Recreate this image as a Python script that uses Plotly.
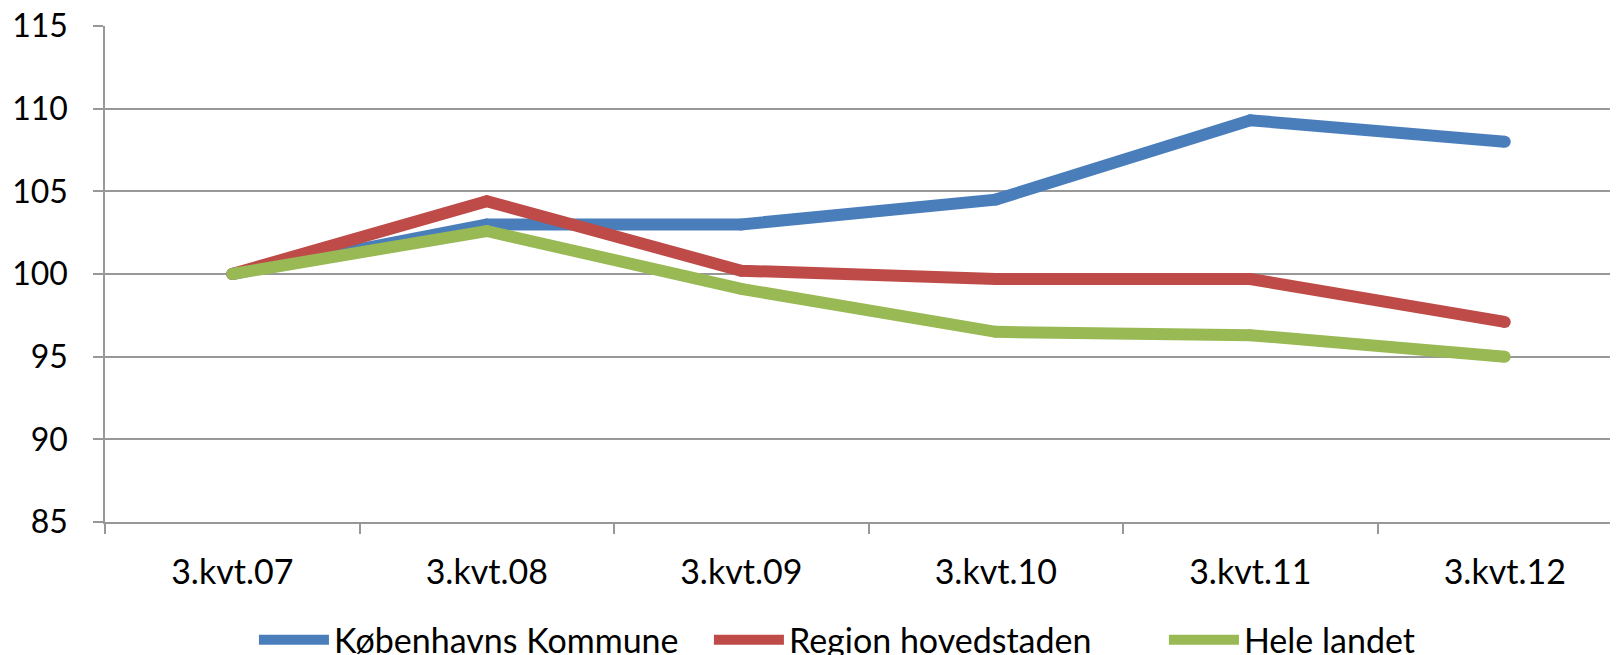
import plotly.graph_objects as go

quarters = ["3.kvt.07", "3.kvt.08", "3.kvt.09", "3.kvt.10", "3.kvt.11", "3.kvt.12"]
kbh_kommune = [100.0, 103.0, 103.0, 104.5, 109.3, 108.0]
region_hovedstaden = [100.0, 104.4, 100.2, 99.7, 99.7, 97.1]
hele_landet = [100.0, 102.6, 99.1, 96.5, 96.3, 95.0]

series = [
    ("Københavns Kommune", kbh_kommune, "#4A7EBB"),
    ("Region hovedstaden", region_hovedstaden, "#BE4B48"),
    ("Hele landet", hele_landet, "#98B954"),
]

fig = go.Figure()
for name, vals, col in series:
    fig.add_trace(go.Scatter(x=quarters, y=vals, name=name, mode="lines",
                             line=dict(color=col, width=12), legendgroup=name))
    # round caps / joins
    fig.add_trace(go.Scatter(x=quarters, y=vals, mode="markers", showlegend=False,
                             marker=dict(color=col, size=12), legendgroup=name,
                             hoverinfo="skip"))

# page body has an 8px margin, so the figure is offset by 8px
grid_col = "#989898"
fig.update_layout(
    width=1618, height=655,
    margin=dict(l=97, r=8, t=18, b=141, autoexpand=False),
    plot_bgcolor="white", paper_bgcolor="white",
    font=dict(family="Lato, Open Sans, sans-serif", size=34, color="black"),
    showlegend=True,
    legend=dict(orientation="h", x=0.152, xanchor="left", xref="container",
                y=0.035, yanchor="middle", yref="container",
                itemwidth=70, entrywidth=370, font=dict(size=34), tracegroupgap=0),
    xaxis=dict(type="category", range=[-0.5, 5.445], showgrid=False,
               showline=True, linecolor=grid_col, linewidth=1.5,
               ticks="outside", tickson="boundaries", ticklen=10, tickcolor=grid_col,
               tickwidth=1.5, ticklabelstandoff=19),
    yaxis=dict(range=[85, 115], dtick=5, showgrid=True, gridcolor=grid_col, gridwidth=1.5,
               showline=True, linecolor=grid_col, linewidth=1.5, zeroline=False,
               ticks="outside", ticklen=10, tickcolor=grid_col, tickwidth=1.5,
               ticklabelstandoff=19, ticklabeloverflow="allow", tickfont=dict(size=32)),
)

fig.write_html("out.html")
